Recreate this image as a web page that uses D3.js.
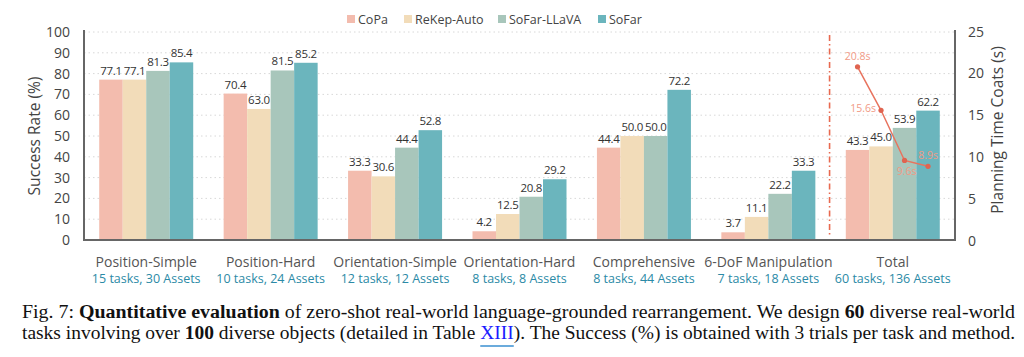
<!DOCTYPE html>
<html><head><meta charset="utf-8">
<script src="https://cdn.jsdelivr.net/npm/d3@7"></script>
<style>body{margin:0;background:#fff;}svg{display:block;}</style>
</head><body>
<svg id="c" width="1024" height="357"></svg>
<script>
const categories = ["Position-Simple","Position-Hard","Orientation-Simple","Orientation-Hard","Comprehensive","6-DoF Manipulation","Total"];
const subtitles = ["15 tasks, 30 Assets","10 tasks, 24 Assets","12 tasks, 12 Assets","8 tasks, 8 Assets","8 tasks, 44 Assets","7 tasks, 18 Assets","60 tasks, 136 Assets"];
const methods = ["CoPa","ReKep-Auto","SoFar-LLaVA","SoFar"];
const copa = [77.1,70.4,33.3,4.2,44.4,3.7,43.3];
const rekep = [77.1,63.0,30.6,12.5,50.0,11.1,45.0];
const sofarLlava = [81.3,81.5,44.4,20.8,50.0,22.2,53.9];
const sofar = [85.4,85.2,52.8,29.2,72.2,33.3,62.2];
const planTime = [20.8,15.6,9.6,8.9];
const leftTicks = [0,10,20,30,40,50,60,70,80,90,100];
const rightTicks = [0,5,10,15,20,25];
const colors = ["#f3bcae","#f2dcb9","#a8c6bb","#6bb5bd"];

const series = [copa, rekep, sofarLlava, sofar];
const svg = d3.select("#c");
const L = 84, R = 955, T = 32, B = 240;
const x0 = d3.scaleBand().domain(categories).range([L, R]).padding(0);
const x1 = d3.scaleBand().domain(methods).range([0, 94]).padding(0);
const y = d3.scaleLinear().domain([0,100]).range([B, T]);
const y2 = d3.scaleLinear().domain([0,25]).range([B+0.7, T-0.3]);
const font = "'Open Sans', sans-serif";

// grid
svg.append("g").selectAll("line").data(leftTicks.slice(1)).join("line")
  .attr("x1", L).attr("x2", R).attr("y1", d=>y(d)).attr("y2", d=>y(d))
  .attr("stroke", "#d8d8d8").attr("stroke-width", 1).attr("stroke-dasharray", "1.5,3");

// bars
const groups = svg.append("g").selectAll("g").data(categories).join("g")
  .attr("transform", c => `translate(${x0(c) + (x0.bandwidth()-94)/2},0)`);
groups.each(function(c, i){
  const g = d3.select(this);
  methods.forEach((m, j) => {
    const v = series[j][i];
    g.append("rect").attr("x", x1(m)).attr("width", x1.bandwidth())
      .attr("y", y(v)).attr("height", B - y(v)).attr("fill", colors[j]);
    g.append("text").attr("x", x1(m) + x1.bandwidth()/2).attr("y", y(v) - 5)
      .attr("text-anchor", "middle").attr("font-family", font).attr("font-size", 11.5)
      .attr("fill", "#333").attr("letter-spacing", -0.3).text(v.toFixed(1));
  });
});

// axes
const axL = svg.append("g").attr("transform", `translate(${L},0)`)
  .call(d3.axisLeft(y).tickValues(leftTicks).tickSize(0).tickPadding(14));
const axR = svg.append("g").attr("transform", `translate(${R},0)`)
  .call(d3.axisRight(y2).tickValues(rightTicks).tickSize(0).tickPadding(13));
[axL, axR].forEach(a => {
  a.select(".domain").remove();
  a.selectAll("text").attr("font-family", font).attr("font-size", 14).attr("fill", "#444");
});
svg.append("line").attr("x1", L).attr("x2", L).attr("y1", T-2).attr("y2", B+1).attr("stroke", "#666").attr("stroke-width", 2);
svg.append("line").attr("x1", R).attr("x2", R).attr("y1", T-2).attr("y2", B+1).attr("stroke", "#666").attr("stroke-width", 2);
svg.append("line").attr("x1", L-1).attr("x2", R+1).attr("y1", B).attr("y2", B).attr("stroke", "#666").attr("stroke-width", 2);

// axis titles
svg.append("text").attr("transform", `translate(40,${(T+B)/2}) rotate(-90)`).attr("text-anchor","middle")
  .attr("font-family", font).attr("font-size", 15.5).attr("fill", "#444").text("Success Rate (%)");
svg.append("text").attr("transform", `translate(1003,${(T+B)/2-6}) rotate(-90)`).attr("text-anchor","middle")
  .attr("font-family", font).attr("font-size", 15.5).attr("fill", "#444").text("Planning Time Coats (s)");

// category labels
svg.append("g").selectAll("text").data(categories).join("text")
  .attr("x", c => x0(c) + x0.bandwidth()/2).attr("y", 267).attr("text-anchor","middle")
  .attr("font-family", font).attr("font-size", 14).attr("fill", "#555").text(c => c);
svg.append("g").selectAll("text").data(subtitles).join("text")
  .attr("x", (s,i) => x0(categories[i]) + x0.bandwidth()/2).attr("y", 283).attr("text-anchor","middle")
  .attr("font-family", font).attr("font-size", 12.5).attr("fill", "#2b8aa6").text(s => s);

// dash-dot separator
const sepX = (x0(categories[5]) + x0.bandwidth() + x0(categories[6])) / 2 - 1;
svg.append("line").attr("x1", sepX).attr("x2", sepX).attr("y1", 35).attr("y2", 236)
  .attr("stroke", "#e8694f").attr("stroke-width", 1.6).attr("stroke-dasharray", "6,3,1.5,3");

// planning time line on Total group
const tg = x0("Total") + (x0.bandwidth()-94)/2;
const pts = planTime.map((v, j) => [tg + x1(methods[j]) + x1.bandwidth()/2, y2(v)]);
svg.append("path").attr("d", d3.line()(pts)).attr("fill","none").attr("stroke","#e8735e").attr("stroke-width",1.5);
svg.append("g").selectAll("circle").data(pts).join("circle")
  .attr("cx", d=>d[0]).attr("cy", d=>d[1]).attr("r", 2.6).attr("fill", "#e06450");
const off = [[0,-7,"middle"],[-5,2,"end"],[2,15,"middle"],[0,-7,"middle"]];
svg.append("g").selectAll("text").data(pts).join("text")
  .attr("x", (d,i)=>d[0]+off[i][0]).attr("y", (d,i)=>d[1]+off[i][1]).attr("text-anchor",(d,i)=>off[i][2])
  .attr("font-family", font).attr("font-size", 10.5).attr("fill", "#f19a86")
  .text((d,i)=>planTime[i].toFixed(1)+"s");

// legend
const legX = [347, 404, 498, 598];
const leg = svg.append("g").selectAll("g").data(methods).join("g")
  .attr("transform", (m,i)=>`translate(${legX[i]},13)`);
leg.append("rect").attr("width", 8).attr("height", 8).attr("y", 2).attr("fill", (m,i)=>colors[i]);
leg.append("text").attr("x", 11).attr("y", 10.5).attr("font-family", font).attr("font-size", 12.5)
  .attr("fill", "#444").text(m=>m);

// caption
const cap = svg.append("g").attr("font-family", "'Liberation Serif'").attr("font-size", 18).attr("fill", "#111");
const l1 = cap.append("text").attr("x", 22).attr("y", 318).attr("textLength", 993).attr("lengthAdjust", "spacingAndGlyphs");
l1.append("tspan").text("Fig. 7: ");
l1.append("tspan").attr("font-weight","bold").text("Quantitative evaluation");
l1.append("tspan").text(" of zero-shot real-world language-grounded rearrangement. We design ");
l1.append("tspan").attr("font-weight","bold").text("60");
l1.append("tspan").text(" diverse real-world");
const l2 = cap.append("text").attr("x", 22).attr("y", 339).attr("textLength", 993).attr("lengthAdjust", "spacingAndGlyphs");
l2.append("tspan").text("tasks involving over ");
l2.append("tspan").attr("font-weight","bold").text("100");
l2.append("tspan").text(" diverse objects (detailed in Table ");
l2.append("tspan").attr("fill","#1a1aff").text("XIII");
l2.append("tspan").text("). The Success (%) is obtained with 3 trials per task and method.");
try {
  const t = l2.node();
  const full = t.textContent;
  const idx = full.indexOf("XIII");
  const s = t.getStartPositionOfChar(idx), e = t.getEndPositionOfChar(idx+3);
  svg.append("line").attr("x1", s.x).attr("x2", e.x).attr("y1", 346).attr("y2", 346).attr("stroke","#3a8fd0").attr("stroke-width",1.5);
} catch(err) {}
</script>
</body></html>
